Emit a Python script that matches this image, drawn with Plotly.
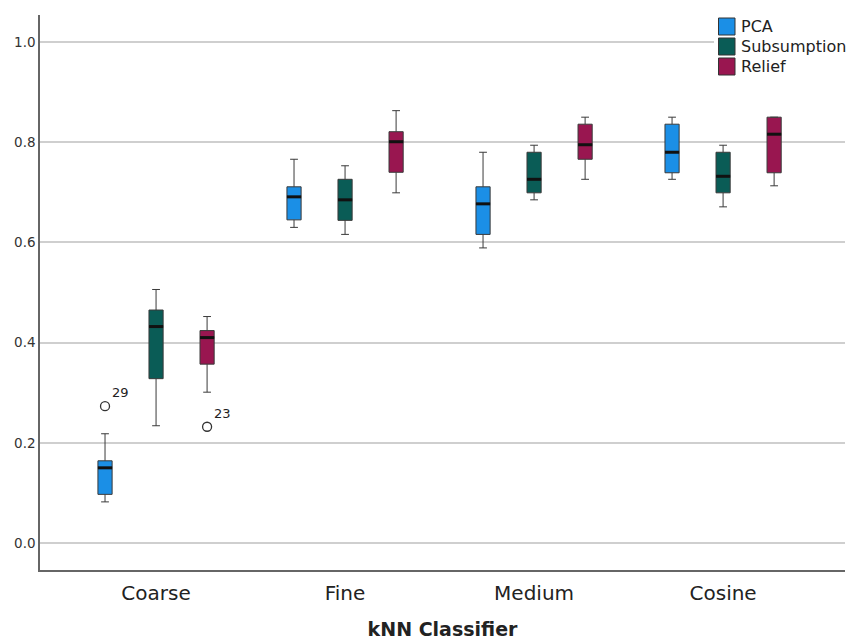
import plotly.graph_objects as go

# kNN classifier variants on the x axis
categories = ["Coarse", "Fine", "Medium", "Cosine"]
methods = ["PCA", "Subsumption", "Relief"]
colors = {"PCA": "#1B8FE6", "Subsumption": "#0A5C56", "Relief": "#991650"}

# Box statistics per method, one value per classifier
lower = {
    "PCA":         [0.082, 0.630, 0.589, 0.726],
    "Subsumption": [0.234, 0.616, 0.685, 0.671],
    "Relief":      [0.301, 0.699, 0.726, 0.713],
}
q1 = {
    "PCA":         [0.097, 0.645, 0.616, 0.739],
    "Subsumption": [0.328, 0.644, 0.699, 0.699],
    "Relief":      [0.357, 0.740, 0.766, 0.739],
}
median = {
    "PCA":         [0.150, 0.691, 0.677, 0.780],
    "Subsumption": [0.432, 0.685, 0.726, 0.732],
    "Relief":      [0.410, 0.801, 0.795, 0.816],
}
q3 = {
    "PCA":         [0.164, 0.711, 0.711, 0.836],
    "Subsumption": [0.465, 0.726, 0.780, 0.780],
    "Relief":      [0.424, 0.821, 0.836, 0.850],
}
upper = {
    "PCA":         [0.218, 0.766, 0.780, 0.850],
    "Subsumption": [0.506, 0.753, 0.794, 0.794],
    "Relief":      [0.452, 0.863, 0.850, 0.850],
}

# Outlying cases: (method, classifier index, value, case label)
outliers = [
    ("PCA", 0, 0.273, "29"),
    ("Relief", 0, 0.232, "23"),
]

offsets = {"PCA": -0.27, "Subsumption": 0.0, "Relief": 0.27}
box_w = 0.075

# plot-area geometry in pixels (used to place the legend block)
W, H = 853, 640
ML, MR, MT, MB = 40, 8, 15, 70
PW, PH = W - ML - MR, H - MT - MB


def px_x(p):
    return (p - ML) / PW


def px_y(p):
    return 1 - (p - MT) / PH


fig = go.Figure()

for m in methods:
    xs = [i + offsets[m] for i in range(len(categories))]
    fig.add_trace(go.Box(
        x=xs, q1=q1[m], median=median[m], q3=q3[m],
        lowerfence=lower[m], upperfence=upper[m],
        width=box_w, whiskerwidth=0.55,
        fillcolor=colors[m],
        line=dict(color="#3a3a3a", width=1),
        boxpoints=False, showlegend=False, name=m, hoverinfo="skip",
    ))
    # thick median bars
    mx, my = [], []
    for x, v in zip(xs, median[m]):
        mx += [x - box_w / 2, x + box_w / 2, None]
        my += [v, v, None]
    fig.add_trace(go.Scatter(
        x=mx, y=my, mode="lines", line=dict(color="#111111", width=3),
        showlegend=False, hoverinfo="skip",
    ))

for m, i, v, lab in outliers:
    fig.add_trace(go.Scatter(
        x=[i + offsets[m]], y=[v], mode="markers",
        marker=dict(symbol="circle-open", size=9, color="#333333",
                    line=dict(width=1.3)),
        showlegend=False, hoverinfo="skip",
    ))
    fig.add_annotation(
        x=i + offsets[m], y=v, text=lab, showarrow=False,
        xanchor="left", yanchor="bottom", xshift=5, yshift=4,
        font=dict(size=13, color="#222222"),
    )

# Legend block: white backing, colour squares and labels
shapes = [dict(
    type="rect", xref="paper", yref="paper", layer="above",
    x0=px_x(714), x1=px_x(853), y0=px_y(78), y1=px_y(15),
    fillcolor="white", line=dict(width=0),
)]
for k, m in enumerate(methods):
    cy = 26.5 + 20 * k
    shapes.append(dict(
        type="rect", xref="paper", yref="paper", layer="above",
        x0=px_x(718.5), x1=px_x(735), y0=px_y(cy + 8.5), y1=px_y(cy - 8.5),
        fillcolor=colors[m], line=dict(color="#333333", width=1),
    ))
    fig.add_annotation(
        xref="paper", yref="paper", x=px_x(739), y=px_y(cy),
        text=m, showarrow=False, xanchor="left", yanchor="middle",
        font=dict(size=16, color="#222222"),
    )

font_family = "DejaVu Sans"
fig.update_layout(
    width=W, height=H,
    margin=dict(l=ML, r=MR, t=MT, b=MB, autoexpand=False),
    plot_bgcolor="white", paper_bgcolor="white",
    font=dict(family=font_family, color="#333333"),
    showlegend=False,
    shapes=shapes,
    xaxis=dict(
        range=[-0.614, 3.645],
        tickvals=list(range(len(categories))), ticktext=categories,
        tickfont=dict(size=20, color="#222222"),
        ticklabelstandoff=4, automargin=False,
        showgrid=False, zeroline=False,
        showline=True, linecolor="#666666", linewidth=1.5,
        ticks="",
        title=dict(text="<b>kNN Classifier</b>",
                   font=dict(size=19, color="#222222"), standoff=22),
    ),
    yaxis=dict(
        range=[-0.054, 1.054],
        tickvals=[0.0, 0.2, 0.4, 0.6, 0.8, 1.0], tickformat=".1f",
        tickfont=dict(size=13.5, color="#333333"),
        automargin=False,
        showgrid=True, gridcolor="#cfcfcf", gridwidth=1.5,
        zeroline=False,
        showline=True, linecolor="#666666", linewidth=1.5,
        ticks="",
    ),
)

fig.write_html("out.html")
